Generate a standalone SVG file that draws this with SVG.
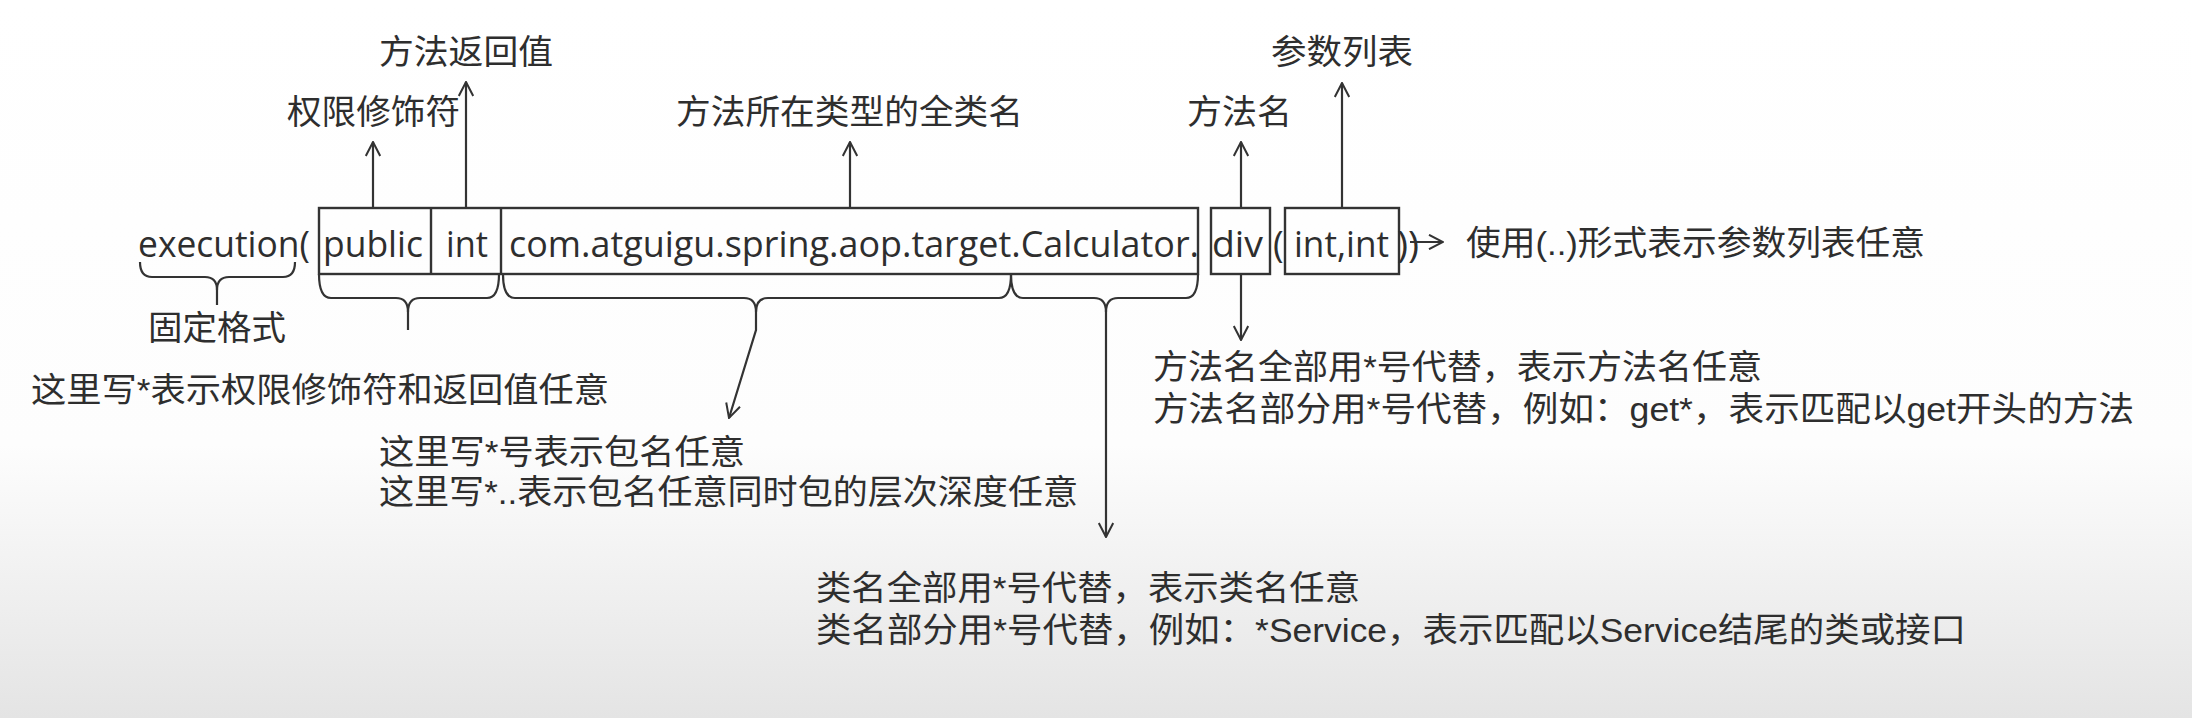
<svg xmlns="http://www.w3.org/2000/svg" width="2192" height="718" viewBox="0 0 2192 718">
  <defs>
    <linearGradient id="bg" x1="0" y1="0" x2="0" y2="1">
      <stop offset="0" stop-color="#ffffff"/>
      <stop offset="0.62" stop-color="#fdfdfd"/>
      <stop offset="1" stop-color="#e4e4e4"/>
    </linearGradient>
    <marker id="ah" viewBox="0 0 16 16" refX="15" refY="8" markerWidth="16" markerHeight="16" markerUnits="userSpaceOnUse" orient="auto">
      <path d="M1,0.8 L15,8 L1,15.2" fill="none" stroke="#333" stroke-width="2"/>
    </marker>
  </defs>
  <style>
    .ln { fill: none; stroke: #333; stroke-width: 2.2; }
    .box { fill: none; stroke: #333; stroke-width: 2.4; }
    .code { font-family: "Open Sans", "Noto Sans CJK SC", sans-serif; font-size: 36px; fill: #2e2e2e; }
    .lbl { font-family: "Liberation Sans", "Noto Sans CJK SC", sans-serif; font-size: 34px; fill: #2e2e2e; }
  </style>
  <rect x="0" y="0" width="2192" height="718" fill="url(#bg)"/>

  <g id="expr">
    <text class="code" x="138" y="257" textLength="172" lengthAdjust="spacingAndGlyphs">execution(</text>
    <rect class="box" x="319" y="208" width="879" height="66"/>
    <line class="box" x1="431" y1="208" x2="431" y2="274"/>
    <line class="box" x1="501" y1="208" x2="501" y2="274"/>
    <text class="code" x="323" y="257" textLength="100" lengthAdjust="spacingAndGlyphs">public</text>
    <text class="code" x="446" y="257" textLength="42" lengthAdjust="spacingAndGlyphs">int</text>
    <text class="code" x="509" y="257" textLength="690" lengthAdjust="spacingAndGlyphs">com.atguigu.spring.aop.target.Calculator.</text>
  </g>
  <g id="method-box">
    <rect class="box" x="1211" y="208" width="59" height="66"/>
    <text class="code" x="1212" y="257" textLength="51" lengthAdjust="spacingAndGlyphs">div</text>
  </g>
  <g id="param-box">
    <text class="code" x="1273" y="257">(</text>
    <rect class="box" x="1285" y="208" width="114" height="66"/>
    <text class="code" x="1294" y="257" textLength="95" lengthAdjust="spacingAndGlyphs">int,int</text>
    <text class="code" x="1397" y="257" textLength="22" lengthAdjust="spacingAndGlyphs">))</text>
  </g>

  <g id="labels">
    <text id="lbl-return" class="lbl" x="379" y="64" textLength="174" lengthAdjust="spacingAndGlyphs">方法返回值</text>
    <text id="lbl-modifier" class="lbl" x="287" y="124" textLength="173" lengthAdjust="spacingAndGlyphs">权限修饰符</text>
    <text id="lbl-class" class="lbl" x="676" y="124" textLength="347" lengthAdjust="spacingAndGlyphs">方法所在类型的全类名</text>
    <text id="lbl-method" class="lbl" x="1187" y="124" textLength="105" lengthAdjust="spacingAndGlyphs">方法名</text>
    <text id="lbl-params" class="lbl" x="1271" y="64" textLength="142" lengthAdjust="spacingAndGlyphs">参数列表</text>
    <text id="lbl-fixed" class="lbl" x="148" y="340" textLength="138" lengthAdjust="spacingAndGlyphs">固定格式</text>
    <text id="lbl-any-mod" class="lbl" x="31" y="402" textLength="578" lengthAdjust="spacingAndGlyphs">这里写*表示权限修饰符和返回值任意</text>
    <g id="lbl-package">
      <text class="lbl" x="379" y="464" textLength="366" lengthAdjust="spacingAndGlyphs">这里写*号表示包名任意</text>
      <text class="lbl" x="379" y="504" textLength="699" lengthAdjust="spacingAndGlyphs">这里写*..表示包名任意同时包的层次深度任意</text>
    </g>
    <g id="lbl-method-any">
      <text class="lbl" x="1153" y="379" textLength="609" lengthAdjust="spacingAndGlyphs">方法名全部用*号代替，表示方法名任意</text>
      <text class="lbl" x="1153" y="421" textLength="981" lengthAdjust="spacingAndGlyphs">方法名部分用*号代替，例如：get*，表示匹配以get开头的方法</text>
    </g>
    <text id="lbl-params-any" class="lbl" x="1466" y="255" textLength="459" lengthAdjust="spacingAndGlyphs">使用(..)形式表示参数列表任意</text>
    <g id="lbl-class-any">
      <text class="lbl" x="816" y="600" textLength="544" lengthAdjust="spacingAndGlyphs">类名全部用*号代替，表示类名任意</text>
      <text class="lbl" x="816" y="642" textLength="1150" lengthAdjust="spacingAndGlyphs">类名部分用*号代替，例如：*Service，表示匹配以Service结尾的类或接口</text>
    </g>
  </g>

  <g id="connectors">
    <!-- braces -->
    <path class="ln" d="M140,262 Q140,277 152,277 L205,277 Q217,277 217,290 L217,305"/>
    <path class="ln" d="M295,262 Q295,277 283,277 L229,277 Q217,277 217,290"/>

    <path class="ln" d="M319,274 Q319,298 331,298 L396,298 Q408,298 408,312 L408,330"/>
    <path class="ln" d="M499,274 Q499,298 487,298 L420,298 Q408,298 408,312"/>

    <path class="ln" d="M503,274 Q503,298 515,298 L744,298 Q756,298 756,312 L756,330 L729,418" marker-end="url(#ah)"/>
    <path class="ln" d="M1011,274 Q1011,298 999,298 L768,298 Q756,298 756,312"/>

    <path class="ln" d="M1011,274 Q1011,298 1023,298 L1094,298 Q1106,298 1106,312 L1106,537" marker-end="url(#ah)"/>
    <path class="ln" d="M1198,274 Q1198,298 1186,298 L1118,298 Q1106,298 1106,312"/>

    <!-- up arrows -->
    <line class="ln" x1="373" y1="208" x2="373" y2="142" marker-end="url(#ah)"/>
    <line class="ln" x1="466" y1="208" x2="466" y2="82" marker-end="url(#ah)"/>
    <line class="ln" x1="850" y1="208" x2="850" y2="142" marker-end="url(#ah)"/>
    <line class="ln" x1="1241" y1="208" x2="1241" y2="142" marker-end="url(#ah)"/>
    <line class="ln" x1="1342" y1="208" x2="1342" y2="83" marker-end="url(#ah)"/>
    <!-- down arrow from method -->
    <line class="ln" x1="1241" y1="274" x2="1241" y2="340" marker-end="url(#ah)"/>
    <!-- params note arrow -->
    <line class="ln" x1="1410" y1="242" x2="1443" y2="242" marker-end="url(#ah)"/>
  </g>
</svg>
